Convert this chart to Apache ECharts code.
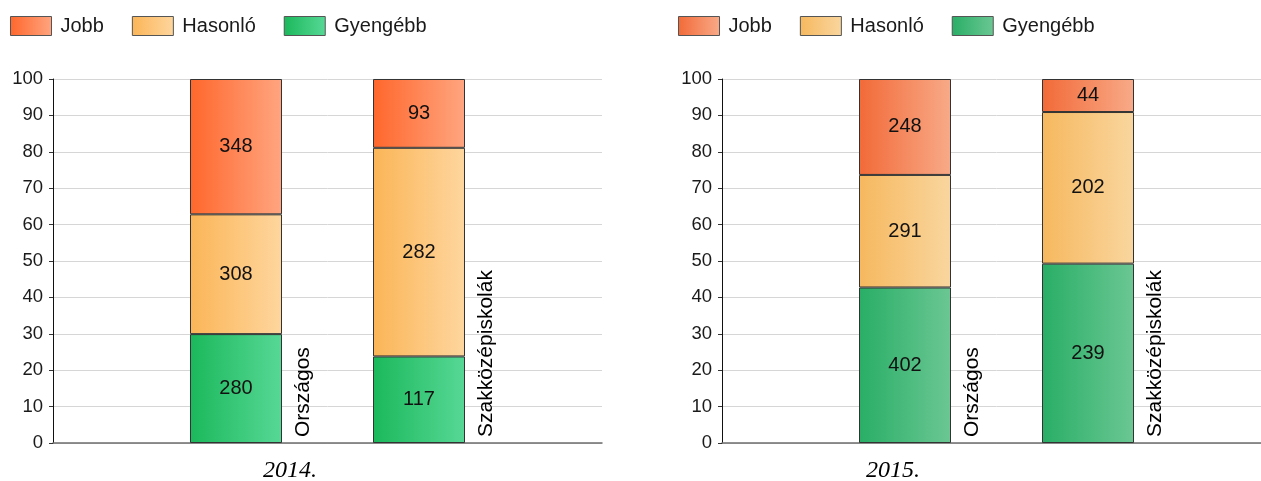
<!DOCTYPE html>
<html>
<head>
<meta charset="utf-8">
<script src="https://cdn.jsdelivr.net/npm/echarts@6/dist/echarts.min.js"></script>
<style>
  html, body { margin: 0; padding: 0; background: #fff; overflow: hidden; }
  /* a bit wider than the window: the right panel is cut by the picture edge */
  #grf { width: 1272px; height: 481px; }
</style>
</head>
<body>
<div id="grf"></div>
<script>
// Adatok (darabszámok)
var kategoriak = ['', 'Országos', 'Szakközépiskolák', ''];
var evek = ['2014.', '2015.'];
var nevek = ['Jobb', 'Hasonló', 'Gyengébb'];

var jobb2014 = [348, 93];
var hasonlo2014 = [308, 282];
var gyengebb2014 = [280, 117];

var jobb2015 = [248, 44];
var hasonlo2015 = [291, 202];
var gyengebb2015 = [402, 239];

var yTicks = [0, 10, 20, 30, 40, 50, 60, 70, 80, 90, 100];

var grafico = echarts.init(document.getElementById('grf'));

function grad(a, b) {
  return new echarts.graphic.LinearGradient(0, 0, 1, 0, [
    { offset: 0, color: a }, { offset: 1, color: b }
  ]);
}

var cores = [
  { jobb: grad('#ff672c', '#ffa580'), hasonlo: grad('#fbb557', '#fed69e'), gyengebb: grad('#1bb85b', '#57d896') },
  { jobb: grad('#f26a38', '#f8aa88'), hasonlo: grad('#f6b85e', '#f9d69f'), gyengebb: grad('#29ae66', '#6bc793') }
];

// százalék (az oszlop 100-ig), a címkén a darabszám
function pct(serie, a, b, c) {
  var out = ['-'];
  for (var i = 0; i < serie.length; i++) {
    var tot = a[i] + b[i] + c[i];
    out.push({ value: serie[i] / tot * 100, qtd: serie[i] });
  }
  out.push('-');
  return out;
}

var fonte = 'Liberation Sans, Arial, sans-serif';
var grids = [
  { left: 53, top: 79, width: 549, height: 364 },
  { left: 722, top: 79, width: 549, height: 364 }
];

var xAxis = [], yAxis = [], series = [], legends = [], titles = [];
var dados = [
  [jobb2014, hasonlo2014, gyengebb2014],
  [jobb2015, hasonlo2015, gyengebb2015]
];

for (var g = 0; g < 2; g++) {
  xAxis.push({
    type: 'category', gridIndex: g, data: kategoriak, boundaryGap: false,
    axisLine: { lineStyle: { color: '#6e6e6e', width: 1.5 } },
    axisTick: { show: false }, axisLabel: { show: false }, splitLine: { show: false }
  });
  yAxis.push({
    type: 'value', gridIndex: g, min: 0, max: 100, interval: 10,
    axisLine: { show: true, lineStyle: { color: '#111' } },
    axisTick: { show: true, length: 4, lineStyle: { color: '#333' } },
    axisLabel: { color: '#1a1a1a', fontSize: 18.5, fontFamily: fonte, margin: 10 },
    splitLine: { lineStyle: { color: '#d6d6d6' } }
  });

  var d = dados[g];
  var ordem = [[2, 'Gyengébb', cores[g].gyengebb], [1, 'Hasonló', cores[g].hasonlo], [0, 'Jobb', cores[g].jobb]];
  for (var k = 0; k < ordem.length; k++) {
    series.push({
      name: ordem[k][1], type: 'bar', stack: 'st' + g,
      xAxisIndex: g, yAxisIndex: g, barWidth: 92,
      data: pct(d[ordem[k][0]], d[0], d[1], d[2]),
      itemStyle: { color: ordem[k][2], borderColor: '#333', borderWidth: 1 },
      label: {
        show: true, position: 'inside', color: '#111', fontSize: 20, fontFamily: fonte,
        formatter: function (p) { return p.data.qtd; }
      },
      emphasis: { disabled: true }
    });
  }

  // nevek az oszlopok mellett, függőlegesen
  series.push({
    type: 'scatter', xAxisIndex: g, yAxisIndex: g, symbolSize: 0,
    data: [[1, 0], [2, 0]],
    itemStyle: { opacity: 1 },
    label: {
      show: true, position: 'inside', rotate: 90, align: 'left', verticalAlign: 'middle',
      offset: [6, 67], color: '#000', fontSize: 21, fontFamily: fonte,
      formatter: function (p) { return kategoriak[p.data[0]]; }
    },
    silent: true
  });

  legends.push({
    left: g === 0 ? 10 : 678, top: 16, padding: 0, icon: 'rect',
    itemWidth: 41, itemHeight: 19, itemGap: 28,
    textStyle: { fontSize: 20, fontFamily: fonte, color: '#1a1a1a', padding: [0, 0, 0, 4] },
    selectedMode: false,
    data: [
      { name: 'Jobb', itemStyle: { color: cores[g].jobb, borderColor: '#555', borderWidth: 1 } },
      { name: 'Hasonló', itemStyle: { color: cores[g].hasonlo, borderColor: '#555', borderWidth: 1 } },
      { name: 'Gyengébb', itemStyle: { color: cores[g].gyengebb, borderColor: '#555', borderWidth: 1 } }
    ]
  });

  titles.push({
    text: evek[g], left: g === 0 ? 290 : 893, top: 459, textAlign: 'center', padding: 0,
    textStyle: { fontFamily: 'Liberation Serif, Times New Roman, serif', fontStyle: 'italic', fontWeight: 'normal', fontSize: 24, color: '#000' }
  });
}

grafico.setOption({
  animation: false,
  title: titles,
  legend: legends,
  grid: grids,
  xAxis: xAxis,
  yAxis: yAxis,
  series: series
});
</script>
</body>
</html>
